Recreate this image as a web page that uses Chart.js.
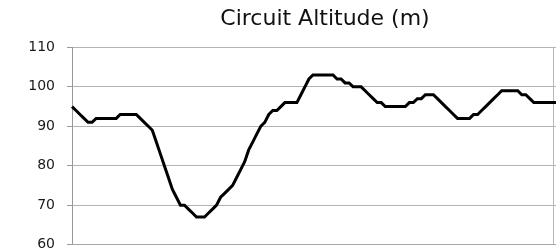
<!DOCTYPE html>
<html>
<head>
<meta charset="utf-8">
<script src="https://cdn.jsdelivr.net/npm/chart.js@4/dist/chart.umd.min.js"></script>
<style>
  html, body { margin: 0; padding: 0; background: #fff; overflow: hidden; }
  #wrap { width: 578px; height: 251px; position: relative; overflow: hidden; }
</style>
</head>
<body>
<div id="wrap"><canvas id="c" width="578" height="265"></canvas></div>
<script>
// Altitude samples along the circuit (m)
const altitude = [
  95, 94, 93, 92, 91, 91, 92, 92, 92, 92, 92, 92, 93, 93, 93, 93, 93, 92, 91, 90,
  89, 86, 83, 80, 77, 74, 72, 70, 70, 69, 68, 67, 67, 67, 68, 69, 70, 72, 73, 74,
  75, 77, 79, 81, 84, 86, 88, 90, 91, 93, 94, 94, 95, 96, 96, 96, 96, 98, 100, 102,
  103, 103, 103, 103, 103, 103, 102, 102, 101, 101, 100, 100, 100, 99, 98, 97, 96, 96, 95, 95,
  95, 95, 95, 95, 96, 96, 97, 97, 98, 98, 98, 97, 96, 95, 94, 93, 92, 92, 92, 92,
  93, 93, 94, 95, 96, 97, 98, 99, 99, 99, 99, 99, 98, 98, 97, 96, 96, 96, 96, 96,
  96, 96, 96, 96, 96, 96, 96
];
// Sample positions along the lap (category labels, not shown)
const samplePoints = altitude.map((_, i) => String(i));
const yTicks = [60, 70, 80, 90, 100, 110];
const titleText = 'Circuit Altitude (m)';
const markerIndex = 120;

new Chart(document.getElementById('c'), {
  type: 'line',
  data: {
    labels: samplePoints,
    datasets: [{
      label: titleText,
      data: altitude,
      borderColor: '#000000',
      borderWidth: 3,
      pointRadius: 0,
      tension: 0,
      fill: false,
      borderJoinStyle: 'miter'
    }]
  },
  options: {
    responsive: false,
    animation: false,
    devicePixelRatio: 1,
    layout: { padding: { left: 0, right: 0, top: 0, bottom: 0 } },
    plugins: {
      legend: { display: false },
      tooltip: { enabled: false },
      title: {
        display: true,
        text: titleText,
        fullSize: false,
        color: '#111111',
        font: { family: 'DejaVu Sans', size: 22, weight: 'normal' },
        padding: { top: 6, bottom: 15 }
      }
    },
    scales: {
      x: {
        type: 'category',
        offset: false,
        ticks: { display: false, autoSkip: false },
        grid: {
          drawTicks: false,
          color: (ctx) => ctx.index === markerIndex ? '#b8b8b8' : 'rgba(0,0,0,0)',
          lineWidth: 1
        },
        border: { display: true, color: '#a8a8a8', width: 1 },
        afterFit: (s) => { s.height = 0; }
      },
      y: {
        min: 60,
        max: 110,
        afterBuildTicks: (s) => { s.ticks = yTicks.map(v => ({ value: v })); },
        ticks: {
          color: '#1a1a1a',
          padding: 12,
          font: { family: 'DejaVu Sans', size: 14 }
        },
        grid: {
          color: '#b4b4b4',
          lineWidth: 1,
          drawTicks: true,
          tickLength: 5,
          tickColor: '#999999'
        },
        border: { display: true, color: '#999999', width: 1 },
        afterFit: (s) => { s.width = 72; }
      }
    }
  }
});
</script>
</body>
</html>
